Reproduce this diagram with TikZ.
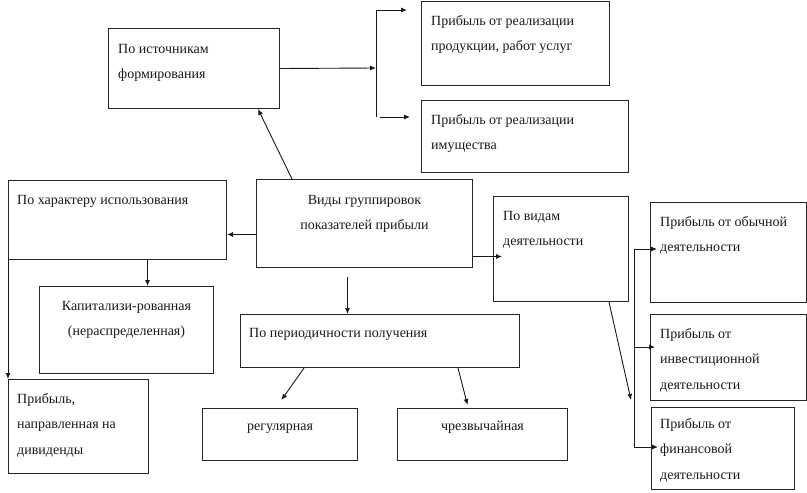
\documentclass[tikz,border=0pt]{standalone}
\usepackage{fontspec}
\setmainfont{Liberation Serif}
\usetikzlibrary{arrows.meta}
\begin{document}
\begin{tikzpicture}[x=1pt,y=-1pt,
  box/.style={draw=black!85,line width=1pt,rectangle,inner sep=0pt,anchor=north west},
  txt/.style={inner sep=0pt,font=\fontsize{14}{25.5}\selectfont,text=black!90},
  tl/.style={txt,anchor=north west,align=left},
  tc/.style={txt,anchor=north,align=center},
  arr/.style={line width=0.9pt,draw=black!90,-{Latex[length=6pt,width=5pt]}},
  ln/.style={line width=0.9pt,draw=black!90}]
\useasboundingbox (0,0) rectangle (807,493);
% boxes
\node[box,minimum width=171pt,minimum height=80pt] (b1) at (108,28) {};
\node[box,minimum width=188pt,minimum height=84pt] (b2) at (421,1) {};
\node[box,minimum width=207pt,minimum height=72pt] (b3) at (421,100) {};
\node[box,minimum width=216pt,minimum height=88pt] (b4) at (256,179) {};
\node[box,minimum width=218pt,minimum height=79pt] (b5) at (8,180) {};
\node[box,minimum width=174pt,minimum height=87pt] (b6) at (39,286) {};
\node[box,minimum width=140pt,minimum height=94pt] (b7) at (8,379) {};
\node[box,minimum width=279pt,minimum height=53pt] (b8) at (240,314) {};
\node[box,minimum width=155pt,minimum height=52pt] (b9) at (202,408) {};
\node[box,minimum width=170pt,minimum height=52pt] (b10) at (397,408) {};
\node[box,minimum width=135pt,minimum height=105pt] (b11) at (493,196) {};
\node[box,minimum width=156pt,minimum height=100pt] (b12) at (650,202) {};
\node[box,minimum width=156pt,minimum height=86pt] (b13) at (650,314) {};
\node[box,minimum width=143pt,minimum height=82pt] (b14) at (651,407) {};
% texts
\node[tl] (t1) at ([xshift=10pt,yshift=-16pt]b1.north west) {По источникам\\формирования};
\node[tl] (t2) at ([xshift=10pt,yshift=-14pt]b2.north west) {Прибыль от реализации\\продукции, работ услуг};
\node[tl] (t3) at ([xshift=10pt,yshift=-14pt]b3.north west) {Прибыль от реализации\\имущества};
\node[tc] (t4) at ([yshift=-16pt]b4.north) {Виды группировок\\показателей прибыли};
\node[tl] (t5) at ([xshift=9pt,yshift=-15pt]b5.north west) {По характеру использования};
\node[tc] (t6) at ([yshift=-15pt]b6.north) {Капитализи-рованная\\(нераспределенная)};
\node[tl] (t7) at ([xshift=9pt,yshift=-14pt]b7.north west) {Прибыль,\\направленная на\\дивиденды};
\node[tl] (t8) at ([xshift=9pt,yshift=-14pt]b8.north west) {По периодичности получения};
\node[txt,anchor=base] (t9) at ([yshift=-22pt]b9.north) {регулярная};
\node[txt,anchor=base] (t10) at ([yshift=-22pt]b10.north) {чрезвычайная};
\node[tl] (t11) at ([xshift=10pt,yshift=-15pt]b11.north west) {По видам\\деятельности};
\node[tl] (t12) at ([xshift=10pt,yshift=-14pt]b12.north west) {Прибыль от обычной\\деятельности};
\node[tl] (t13) at ([xshift=10pt,yshift=-14pt]b13.north west) {Прибыль от\\инвестиционной\\деятельности};
\node[tl] (t14) at ([xshift=9pt,yshift=-11pt]b14.north west) {Прибыль от\\финансовой\\деятельности};
% connectors
\coordinate (j1) at (376,68);
\coordinate (j1t) at (376,10);
\coordinate (j1b) at (376,117);
\draw[arr] (b1.east) -- (j1);
\draw[ln] (j1t) -- (j1b);
\draw[arr] (j1t) -- ([xshift=-14pt]j1t -| b2.west);
\draw[arr] ([xshift=4pt]j1b) -- ([xshift=-11pt]j1b -| b3.west);
\draw[arr] ([xshift=36pt]b4.north west) -- ([xshift=-22pt]b1.south east);
\draw[arr] ([yshift=-11pt]b4.west) coordinate (p1) -- (p1 -| b5.east);
\draw[arr] ([yshift=-33pt]b4.east) coordinate (p2) -- ([xshift=9pt]p2 -| b11.west);
\draw[arr] ([xshift=-17pt,yshift=-9pt]b4.south) coordinate (p3) -- (p3 |- b8.north);
\draw[arr] ([xshift=30pt]b5.south) coordinate (p4) -- (p4 |- b6.north);
\draw[arr] (b5.south west) -- (b7.north west);
\draw[arr] ([xshift=-76pt]b8.south) -- ([xshift=1.5pt,yshift=8pt]b9.north);
\draw[arr] ([xshift=78pt]b8.south) -- ([xshift=-15pt,yshift=3pt]b10.north);
\coordinate (j2t) at (634,249);
\coordinate (j2m) at (634,347);
\coordinate (j2b) at (634,447);
\coordinate (d) at (631,400);
\draw[ln] (j2t) -- (j2b);
\draw[arr] ([xshift=48pt]b11.south) -- (d);
\draw[arr] (j2t) -- ([xshift=7pt]j2t -| b12.west);
\draw[arr] (j2m) -- ([xshift=5pt]j2m -| b13.west);
\draw[arr] (j2b) -- ([xshift=7pt]j2b -| b14.west);
\end{tikzpicture}
\end{document}
